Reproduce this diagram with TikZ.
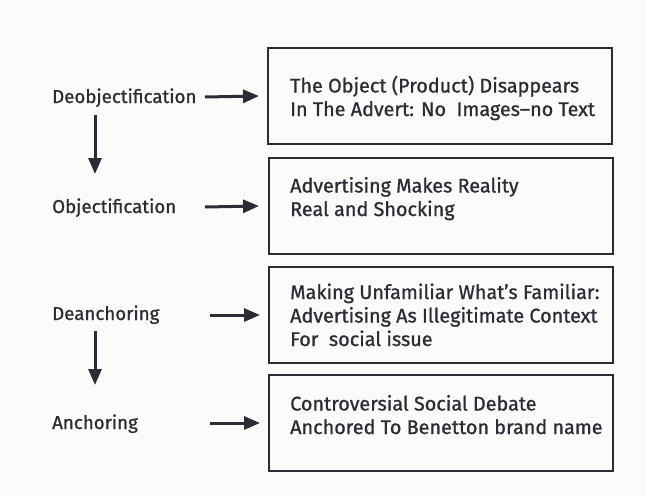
\documentclass[tikz,border=0pt]{standalone}
\usepackage{fontspec}
\setmainfont{Fira Sans}[FakeBold=0.9]
\usetikzlibrary{arrows.meta}
\definecolor{ink}{HTML}{2E2A36}
\definecolor{paper}{HTML}{FBFBFA}
\begin{document}
\begin{tikzpicture}[x=1pt,y=-1pt,
  every node/.style={text=ink},
  stage/.style={anchor=base west,inner sep=0pt,font=\fontsize{18.7}{23.5}\selectfont},
  boxframe/.style={draw=ink,line width=2pt,minimum width=344pt,minimum height=96pt,inner sep=0pt},
  boxtext/.style={anchor=base west,align=left,inner sep=0pt,font=\fontsize{19.8}{23.5}\selectfont},
  arr/.style={draw=ink,line width=3pt,-{Triangle[length=16pt,width=13pt]}}]
  % page
  \fill[paper] (0,0) rectangle (646,496);
  \useasboundingbox (0,0) rectangle (646,496);

  % stage labels
  \node[stage] (l1) at (52,103) {Deobjectification};
  \node[stage] (l2) at (52,213) {Objectification};
  \node[stage] (l3) at (52,320) {Deanchoring};
  \node[stage] (l4) at (52,429) {Anchoring};

  % description boxes
  \node[boxframe] (b1) at (440,96) {};
  \node[boxframe] (b2) at (441,206) {};
  \node[boxframe] (b3) at (441,315) {};
  \node[boxframe] (b4) at (441,423) {};

  % box texts (base anchor sits on the last line)
  \node[boxtext] (t1) at (290,116) {The Object (Product) Disappears\\In The Advert: No~ Images--no Text};
  \node[boxtext] (t2) at (290,216) {Advertising Makes Reality\\Real and Shocking};
  \node[boxtext] (t3) at (290,346) {Making Unfamiliar What's Familiar:\\Advertising As Illegitimate Context\\For~ social issue};
  \node[boxtext] (t4) at (290,434) {Controversial Social Debate\\Anchored To Benetton brand name};

  % arrow tails
  \coordinate (s1) at (205,97);
  \coordinate (s2) at (205,207);
  \coordinate (s3) at (210,315);
  \coordinate (s4) at (210,423);
  \coordinate (d1a) at (95,115);
  \coordinate (d1b) at (95,174);
  \coordinate (d2a) at (95,331);
  \coordinate (d2b) at (95,385);

  % connectors
  \draw[arr] (s1) -- ([xshift=-8pt]b1.west);
  \draw[arr] (s2) -- ([xshift=-9pt]b2.west);
  \draw[arr] (s3) -- ([xshift=-8pt]b3.west);
  \draw[arr] (s4) -- ([xshift=-8pt]b4.west);
  \draw[arr] (d1a) -- (d1b);
  \draw[arr] (d2a) -- (d2b);
\end{tikzpicture}
\end{document}
